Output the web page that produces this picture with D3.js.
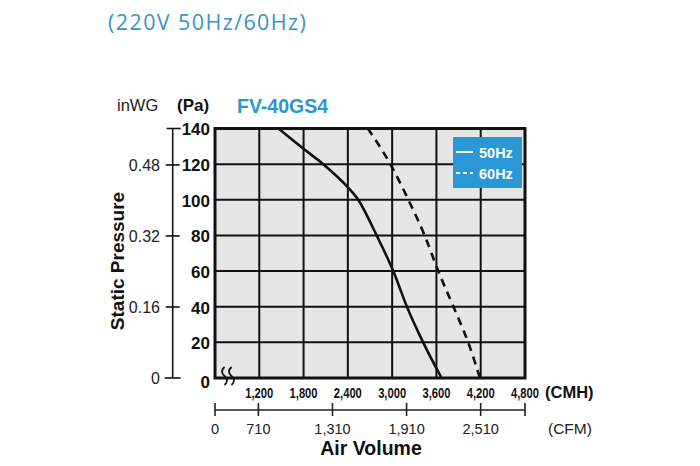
<!DOCTYPE html>
<html>
<head>
<meta charset="utf-8">
<script src="https://cdn.jsdelivr.net/npm/d3@7"></script>
<style>
  body { margin: 0; background: #fff; }
  svg text { font-family: "Liberation Sans", Arial, sans-serif; }
</style>
</head>
<body>
<svg id="chart" width="700" height="466"></svg>
<script>
// values
const series = ['50Hz', '60Hz'];
const cmh50 = [1460, 1800, 2066, 2400, 2540, 2790, 3015, 3200, 3420, 3670];
const pa50  = [140, 128.6, 120, 107, 100, 80, 60, 40, 20, 0];
const cmh60 = [2670, 2975, 3220, 3440, 3625, 3830, 4030, 4190];
const pa60  = [140, 120, 100, 80, 60, 40, 20, 0];

const paTicks = [20, 40, 60, 80, 100, 120, 140];
const inwgTicks = [0.16, 0.32, 0.48];
const cmhTicks = [1200, 1800, 2400, 3000, 3600, 4200, 4800];
const cfmTicks = [710, 1310, 1910, 2510];

const PA_PER_INWG = 249.09;
const CMH_PER_CFM = 1.673; // as drawn on the chart's CFM ruler

const blue = '#2b96cf';
const svg = d3.select('#chart');

const x = d3.scaleLinear().domain([600, 4800]).range([215, 525]);
const y = d3.scaleLinear().domain([0, 140]).range([378, 128.5]);

// title
svg.append('text')
  .attr('x', 108).attr('y', 30)
  .style('font-family', '"Open Sans", sans-serif')
  .style('font-size', '21.5px')
  .style('letter-spacing', '1.4px')
  .attr('fill', '#3a95c4')
  .text('(220V 50Hz/60Hz)');

// plot background
svg.append('rect')
  .attr('x', x(600)).attr('y', y(140))
  .attr('width', x(4800) - x(600)).attr('height', y(0) - y(140))
  .attr('fill', '#e6e6e6');

// grid
const grid = svg.append('g').attr('stroke', '#111').attr('stroke-width', 2);
grid.selectAll('line.v').data(cmhTicks.slice(0, -1)).join('line')
  .attr('x1', d => x(d)).attr('x2', d => x(d))
  .attr('y1', y(140)).attr('y2', y(0));
grid.selectAll('line.h').data(paTicks.slice(0, -1)).join('line')
  .attr('x1', x(600)).attr('x2', x(4800))
  .attr('y1', d => y(d)).attr('y2', d => y(d));

// curves
const line = d3.line().x(d => x(d[0])).y(d => y(d[1])).curve(d3.curveMonotoneX);
svg.append('path')
  .datum(d3.zip(cmh50, pa50))
  .attr('d', line)
  .attr('fill', 'none').attr('stroke', '#111').attr('stroke-width', 2.6);
svg.append('path')
  .datum(d3.zip(cmh60, pa60))
  .attr('d', line)
  .attr('fill', 'none').attr('stroke', '#111').attr('stroke-width', 2.6)
  .attr('stroke-dasharray', '8,6');

// frame
svg.append('rect')
  .attr('x', x(600)).attr('y', y(140))
  .attr('width', x(4800) - x(600)).attr('height', y(0) - y(140))
  .attr('fill', 'none').attr('stroke', '#111').attr('stroke-width', 3);

// axis break marks
const brk = svg.append('g').attr('fill', 'none').attr('stroke', '#111').attr('stroke-width', 1.8);
[222.5, 229.5].forEach(bx => {
  brk.append('path')
    .attr('d', `M${bx + 2},367 q-5,4.5 0,9 q5,4.5 0,9`);
});

// legend
const lg = svg.append('g').attr('transform', 'translate(453,137)');
lg.append('rect').attr('width', 69).attr('height', 51).attr('fill', '#2a98d6');
series.forEach((s, i) => {
  const ly = 15 + i * 21;
  lg.append('line')
    .attr('x1', 3).attr('x2', 20).attr('y1', ly).attr('y2', ly)
    .attr('stroke', '#fff').attr('stroke-width', 2)
    .attr('stroke-dasharray', i ? '4,3' : null);
  lg.append('text')
    .attr('x', 26).attr('y', ly + 5.5)
    .attr('fill', '#fff')
    .style('font-size', '14.5px').style('font-weight', 'bold')
    .text(s);
});

// Pa axis
const paAxis = svg.append('g')
  .attr('transform', `translate(${x(600) - 4},0)`)
  .call(d3.axisLeft(y).tickValues([0].concat(paTicks)).tickSize(0).tickPadding(1));
paAxis.select('.domain').remove();
paAxis.selectAll('text')
  .style('font-size', '17px').style('font-weight', 'bold').attr('fill', '#111')
  .attr('dy', '0.38em');
paAxis.selectAll('.tick').filter(d => d === 0).select('text').attr('dy', '0.55em');

// inWG axis
const axX = 172.7;
const inwg = svg.append('g').attr('stroke', '#111').attr('stroke-width', 1.6);
inwg.append('line').attr('x1', axX).attr('x2', axX).attr('y1', y(140)).attr('y2', y(0));
inwg.append('line').attr('x1', axX - 6).attr('x2', axX + 8).attr('y1', y(140)).attr('y2', y(140));
inwg.append('line').attr('x1', axX - 8).attr('x2', axX + 8).attr('y1', y(0)).attr('y2', y(0));
inwg.selectAll('line.t').data(inwgTicks).join('line')
  .attr('x1', axX - 7).attr('x2', axX + 7)
  .attr('y1', d => y(d * PA_PER_INWG)).attr('y2', d => y(d * PA_PER_INWG));
svg.append('g').selectAll('text').data([0].concat(inwgTicks)).join('text')
  .attr('x', 160).attr('y', d => y(d * PA_PER_INWG) + 6)
  .attr('text-anchor', 'end')
  .style('font-size', '16px').attr('fill', '#222')
  .text(d => d === 0 ? '0' : d3.format('.2f')(d));

// axis headers
svg.append('text').attr('x', 117).attr('y', 111)
  .style('font-size', '16.5px').attr('fill', '#222').text('inWG');
svg.append('text').attr('x', 177).attr('y', 111)
  .style('font-size', '17px').style('font-weight', 'bold').attr('fill', '#111').text('(Pa)');
svg.append('text').attr('x', 237).attr('y', 113)
  .style('font-size', '19.5px').style('font-weight', 'bold').attr('fill', blue).text('FV-40GS4');

svg.append('text')
  .attr('transform', 'translate(124,261) rotate(-90)')
  .attr('text-anchor', 'middle')
  .style('font-size', '19px').style('font-weight', 'bold').attr('fill', '#111')
  .text('Static Pressure');

// CMH labels (condensed)
svg.append('g').selectAll('text').data(cmhTicks).join('text')
  .attr('x', d => x(d)).attr('y', 397.5)
  .attr('text-anchor', 'middle')
  .attr('textLength', 28).attr('lengthAdjust', 'spacingAndGlyphs')
  .style('font-size', '14.5px').style('font-weight', 'bold').attr('fill', '#111')
  .text(d => d3.format(',')(d));
svg.append('text').attr('x', 545).attr('y', 397.5)
  .style('font-size', '16.5px').style('font-weight', 'bold').attr('fill', '#111').text('(CMH)');

// CFM ruler
const cfmX = d => x(d * CMH_PER_CFM);
const ry = 410;
const ruler = svg.append('g').attr('stroke', '#222').attr('stroke-width', 1.6);
ruler.append('line').attr('x1', x(600)).attr('x2', x(4800)).attr('y1', ry).attr('y2', ry);
ruler.selectAll('line.t').data([x(600)].concat(cfmTicks.map(cfmX), [x(4800)])).join('line')
  .attr('x1', d => d).attr('x2', d => d).attr('y1', ry - 7).attr('y2', ry + 6);
svg.append('g').selectAll('text').data([0].concat(cfmTicks)).join('text')
  .attr('x', d => d === 0 ? x(600) : cfmX(d)).attr('y', 434)
  .attr('text-anchor', 'middle')
  .style('font-size', '14.5px').attr('fill', '#222')
  .text(d => d3.format(',')(d));
svg.append('text').attr('x', 548).attr('y', 434)
  .style('font-size', '15.5px').attr('fill', '#222').text('(CFM)');

svg.append('text').attr('x', 371).attr('y', 455)
  .attr('text-anchor', 'middle')
  .style('font-size', '19.5px').style('font-weight', 'bold').attr('fill', '#111')
  .text('Air Volume');
</script>
</body>
</html>
